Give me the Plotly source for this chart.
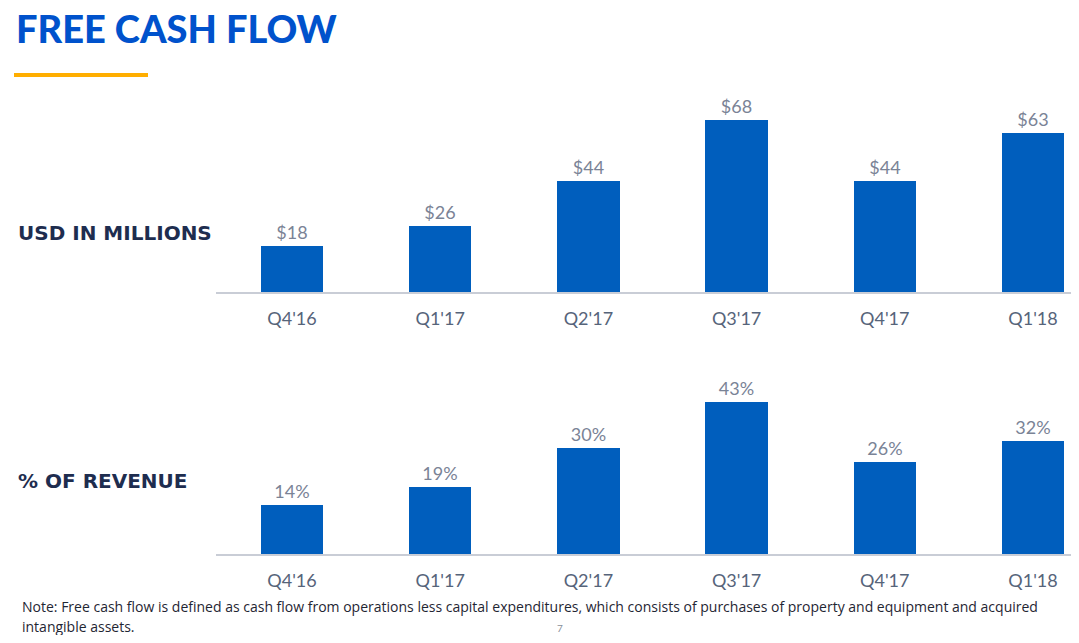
import plotly.graph_objects as go

categories = ["Q4'16", "Q1'17", "Q2'17", "Q3'17", "Q4'17", "Q1'18"]
fcf_usd_millions = [18, 26, 44, 68, 44, 63]
fcf_pct_revenue = [14, 19, 30, 43, 26, 32]

OFF = 8  # page body margin
W, H = 1079 - 2 * OFF, 643 - 2 * OFF
BAR = "#005EBD"
LBL = "#7A8396"
TICK = "#56647A"
NAVY = "#1E2D4F"
BLUE = "#0052CC"
FONT = "Lato, 'Open Sans', sans-serif"

xs = list(range(len(categories)))

def px_x(p):
    return (p - OFF) / W

def py(p):
    return 1 - (p - OFF) / H

fig = go.Figure()
fig.add_trace(go.Bar(
    x=xs, y=fcf_usd_millions, width=0.42, marker=dict(color=BAR, line=dict(width=0)),
    text=[f"${v}" for v in fcf_usd_millions], textposition="outside", cliponaxis=False,
    textfont=dict(color=LBL, size=18, family=FONT), xaxis="x", yaxis="y",
    hoverinfo="skip"))
fig.add_trace(go.Bar(
    x=xs, y=fcf_pct_revenue, width=0.42, marker=dict(color=BAR, line=dict(width=0)),
    text=[f"{v}%" for v in fcf_pct_revenue], textposition="outside", cliponaxis=False,
    textfont=dict(color=LBL, size=18, family=FONT), xaxis="x2", yaxis="y2",
    hoverinfo="skip"))

# x scale: category 0 centred at page px 292, category 5 at page px 1033
ppu = (1033 - 292) / 5
right_px = OFF + W
x_lo = (216 - 292) / ppu
x_hi = (right_px - 292) / ppu

xcommon = dict(
    domain=[px_x(216), 1], range=[x_lo, x_hi], tickmode="array", tickvals=xs,
    ticktext=categories, showline=True, linecolor="#C9CDD6", linewidth=1.5,
    showgrid=False, zeroline=False, ticks="", ticklabelstandoff=10,
    tickfont=dict(color=TICK, size=18, family=FONT), fixedrange=True)

top_base, top_top = 292, 95
bot_base, bot_top = 554, 380
fig.update_layout(
    width=W, height=H, margin=dict(l=0, r=0, t=0, b=0),
    paper_bgcolor="white", plot_bgcolor="white", showlegend=False,
    bargap=0,
    xaxis=dict(**xcommon, anchor="y"),
    yaxis=dict(domain=[py(top_base), py(top_top)], range=[0, (top_base - top_top) / 2.53],
               visible=False, fixedrange=True),
    xaxis2=dict(**xcommon, anchor="y2"),
    yaxis2=dict(domain=[py(bot_base), py(bot_top)], range=[0, (bot_base - bot_top) / 3.53],
                visible=False, fixedrange=True),
)

fig.add_annotation(text="FREE CASH FLOW", x=px_x(14), y=py(28), xref="paper", yref="paper",
                   xanchor="left", yanchor="middle", showarrow=False,
                   font=dict(color=BLUE, size=38, family=FONT, weight=900))
fig.add_shape(type="rect", xref="paper", yref="paper", x0=px_x(14), x1=px_x(148),
              y0=py(77), y1=py(73), fillcolor="#FFAE00", line=dict(width=0))
for label, ypx in [("USD IN MILLIONS", 233), ("% OF REVENUE", 481)]:
    fig.add_annotation(text=f"<b>{label}</b>", x=px_x(16), y=py(ypx), xref="paper", yref="paper",
                       xanchor="left", yanchor="middle", showarrow=False,
                       font=dict(color=NAVY, size=20, family="'DejaVu Sans', sans-serif"))
note_lines = [
    "Note: Free cash flow is defined as cash flow from operations less capital expenditures, which consists of purchases of property and equipment and acquired",
    "intangible assets.",
]
for line, ypx in zip(note_lines, [606, 626]):
    fig.add_annotation(text=line, x=px_x(20), y=py(ypx), xref="paper", yref="paper",
                       xanchor="left", yanchor="middle", showarrow=False,
                       font=dict(color="#1F2633", size=14, family="'Open Sans', sans-serif"))
fig.add_annotation(text="7", x=px_x(560), y=py(628), xref="paper", yref="paper",
                   xanchor="center", yanchor="middle", showarrow=False,
                   font=dict(color="#8A8F99", size=10, family=FONT))

fig.write_html("out.html")
